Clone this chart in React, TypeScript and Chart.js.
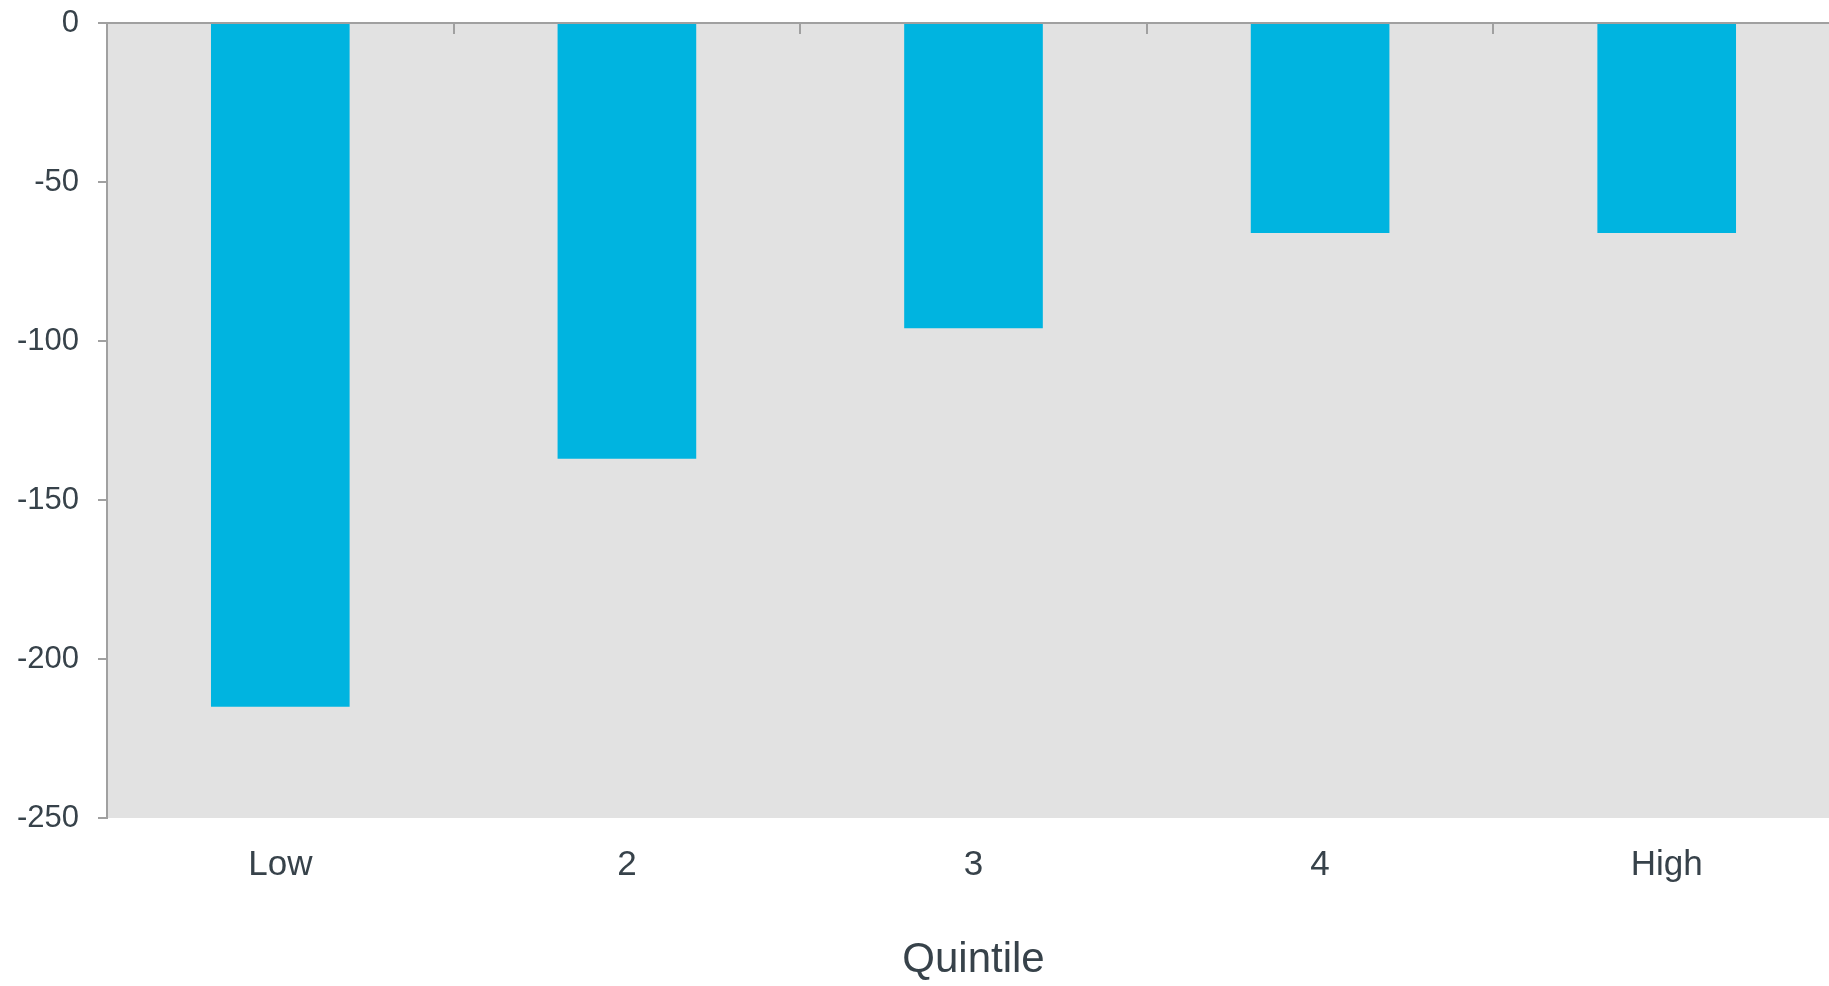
import React, { useEffect, useRef } from "react";
import { Chart, registerables } from "chart.js";

Chart.register(...registerables);

const categories = ["Low", "2", "3", "4", "High"];
const values = [-215, -137, -96, -66, -66];
const yTicks = [0, -50, -100, -150, -200, -250];
const axisTitle = "Quintile";

const TEXT = "#37424a";
const AXIS = "#a0a0a0";
const BAR = "#00b4e0";
const PLOT_BG = "#e2e2e2";
const FONT = "'Liberation Sans', Arial, sans-serif";

// Shades the plot area and draws the zero line with boundary ticks hanging into the plot.
const plotDecor = {
  id: "plotDecor",
  beforeDraw(chart: any) {
    const { ctx, chartArea } = chart;
    ctx.save();
    ctx.fillStyle = PLOT_BG;
    ctx.fillRect(chartArea.left, chartArea.top, chartArea.right - chartArea.left, chartArea.bottom - chartArea.top);
    ctx.restore();
  },
  afterDatasetsDraw(chart: any) {
    const { ctx, chartArea } = chart;
    const x = chart.scales.x;
    const y = chart.scales.y;
    const zeroY = Math.round(y.getPixelForValue(0));
    ctx.save();
    ctx.strokeStyle = AXIS;
    ctx.lineWidth = 2;
    ctx.beginPath();
    ctx.moveTo(chartArea.left, zeroY);
    ctx.lineTo(chartArea.right, zeroY);
    ctx.stroke();
    for (let i = 1; i < categories.length; i++) {
      const px = Math.round(x.getPixelForValue(i - 0.5));
      ctx.beginPath();
      ctx.moveTo(px, zeroY);
      ctx.lineTo(px, zeroY + 11);
      ctx.stroke();
    }
    ctx.restore();
  },
};

export default function App() {
  const ref = useRef<HTMLCanvasElement>(null);

  useEffect(() => {
    if (!ref.current) return;
    const chart = new Chart(ref.current, {
      type: "bar",
      data: {
        labels: categories,
        datasets: [
          {
            data: values,
            backgroundColor: BAR,
            borderWidth: 0,
            barPercentage: 0.4,
            categoryPercentage: 1,
          },
        ],
      },
      options: {
        responsive: false,
        animation: false,
        layout: { padding: { top: 23, left: 0, right: 0, bottom: 0 } },
        plugins: {
          legend: { display: false },
          tooltip: { enabled: false },
        },
        scales: {
          x: {
            position: "bottom",
            grid: { display: false, drawTicks: false },
            border: { display: false },
            ticks: {
              color: TEXT,
              padding: 26,
              font: { family: FONT, size: 35 },
              maxRotation: 0,
            },
            title: {
              display: true,
              text: axisTitle,
              color: TEXT,
              font: { family: FONT, size: 42 },
              padding: { top: 0, bottom: 0 },
            },
            afterFit(scale: any) {
              scale.height = 168;
            },
          },
          y: {
            min: -250,
            max: 0,
            afterBuildTicks(scale: any) {
              scale.ticks = yTicks.map((v) => ({ value: v }));
            },
            grid: {
              drawOnChartArea: false,
              drawTicks: true,
              tickLength: 9,
              color: AXIS,
              lineWidth: 2,
            },
            border: { display: true, color: AXIS, width: 2 },
            ticks: {
              color: TEXT,
              padding: 19,
              font: { family: FONT, size: 31 },
            },
            afterFit(scale: any) {
              scale.width = 107;
              scale.paddingTop = 0;
              scale.paddingBottom = 0;
            },
          },
        },
      },
      plugins: [plotDecor],
    });
    return () => chart.destroy();
  }, []);

  return (
    <div
      style={{
        position: "fixed",
        left: 0,
        top: 0,
        width: 1829,
        height: 986,
        overflow: "hidden",
        background: "#ffffff",
      }}
    >
      <canvas ref={ref} width={1840} height={986} style={{ display: "block" }} />
    </div>
  );
}
